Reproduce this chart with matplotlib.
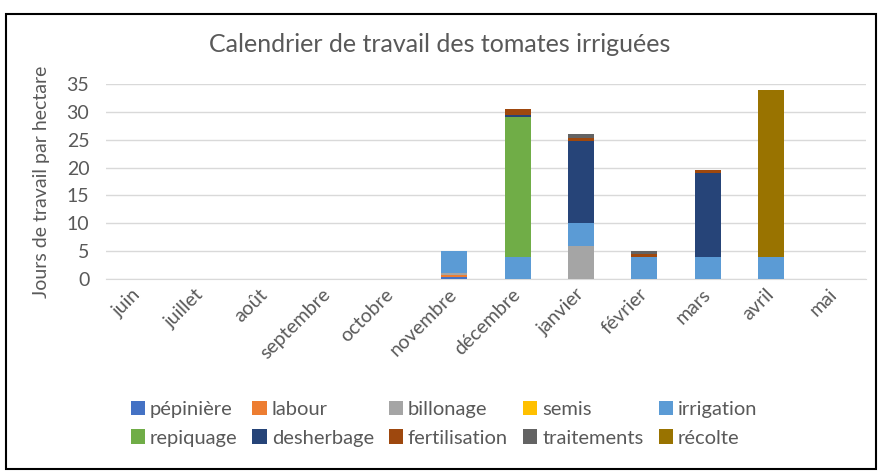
import numpy as np
import matplotlib.pyplot as plt
from matplotlib.patches import Rectangle

plt.rcParams['font.family'] = ['Lato', 'DejaVu Sans']

mois = ['juin', 'juillet', 'août', 'septembre', 'octobre', 'novembre',
        'décembre', 'janvier', 'février', 'mars', 'avril', 'mai']

# jours de travail par hectare, un tableau par tache
pepiniere     = [0, 0, 0, 0, 0, 0.3, 0, 0, 0, 0, 0, 0]
labour        = [0, 0, 0, 0, 0, 0.5, 0, 0, 0, 0, 0, 0]
billonage     = [0, 0, 0, 0, 0, 0.2, 0, 6, 0, 0, 0, 0]
semis         = [0, 0, 0, 0, 0, 0.1, 0, 0, 0, 0, 0, 0]
irrigation    = [0, 0, 0, 0, 0, 4, 4, 4, 4, 4, 4, 0]
repiquage     = [0, 0, 0, 0, 0, 0, 25, 0, 0, 0, 0, 0]
desherbage    = [0, 0, 0, 0, 0, 0, 0.5, 14.8, 0, 15, 0, 0]
fertilisation = [0, 0, 0, 0, 0, 0, 1, 0.5, 0.5, 0.5, 0, 0]
traitements   = [0, 0, 0, 0, 0, 0, 0, 0.7, 0.6, 0, 0, 0]
recolte       = [0, 0, 0, 0, 0, 0, 0, 0, 0, 0, 30, 0]

series = [('pépinière', pepiniere, '#4472C4'),
          ('labour', labour, '#ED7D31'),
          ('billonage', billonage, '#A5A5A5'),
          ('semis', semis, '#FFC000'),
          ('irrigation', irrigation, '#5B9BD5'),
          ('repiquage', repiquage, '#70AD47'),
          ('desherbage', desherbage, '#264478'),
          ('fertilisation', fertilisation, '#9E480E'),
          ('traitements', traitements, '#636363'),
          ('récolte', recolte, '#997300')]

txt = '#595959'
fig = plt.figure(figsize=(8.79, 4.71), dpi=100)
fig.patches.append(Rectangle((0.007, 0.004), 0.99, 0.966, transform=fig.transFigure,
                             fill=False, edgecolor='black', linewidth=1.5))
ax = fig.add_axes([0.1206, 0.4076, 0.8646, 0.4141])

x = np.arange(len(mois))
bottom = np.zeros(len(mois))
handles = []
for name, vals, col in series:
    b = ax.bar(x, vals, 0.41, bottom=bottom, color=col, label=name, zorder=3)
    bottom += np.array(vals)
    handles.append(b)

ax.set_xlim(-0.5, len(mois) - 0.5)
ax.set_ylim(0, 35)
ax.set_yticks(range(0, 36, 5))
ax.grid(axis='y', color='#D9D9D9', linewidth=1, zorder=0)
for s in ['top', 'right', 'left']:
    ax.spines[s].set_visible(False)
ax.spines['bottom'].set_color('#D9D9D9')
ax.tick_params(length=0, colors=txt, labelsize=14)
ax.tick_params(axis='y', pad=12)
ax.set_xticks(x)
ax.set_xticklabels(mois, rotation=45, ha='right', va='center', rotation_mode='anchor')
ax.tick_params(axis='x', pad=9)
ax.set_ylabel('Jours de travail par hectare', color=txt, fontsize=14, labelpad=12)

fig.text(0.5, 0.905, 'Calendrier de travail des tomates irriguées', ha='center',
         va='center', color=txt, fontsize=18)

order = [0, 5, 1, 6, 2, 7, 3, 8, 4, 9]
fig.legend([handles[i] for i in order], [series[i][0] for i in order], ncol=5,
           loc='center left', bbox_to_anchor=(0.128, 0.10), frameon=False, fontsize=14.5,
           labelcolor=txt, handlelength=0.7, handleheight=0.7, handletextpad=0.25,
           columnspacing=0.75, labelspacing=0.55)

plt.savefig('out.png')
